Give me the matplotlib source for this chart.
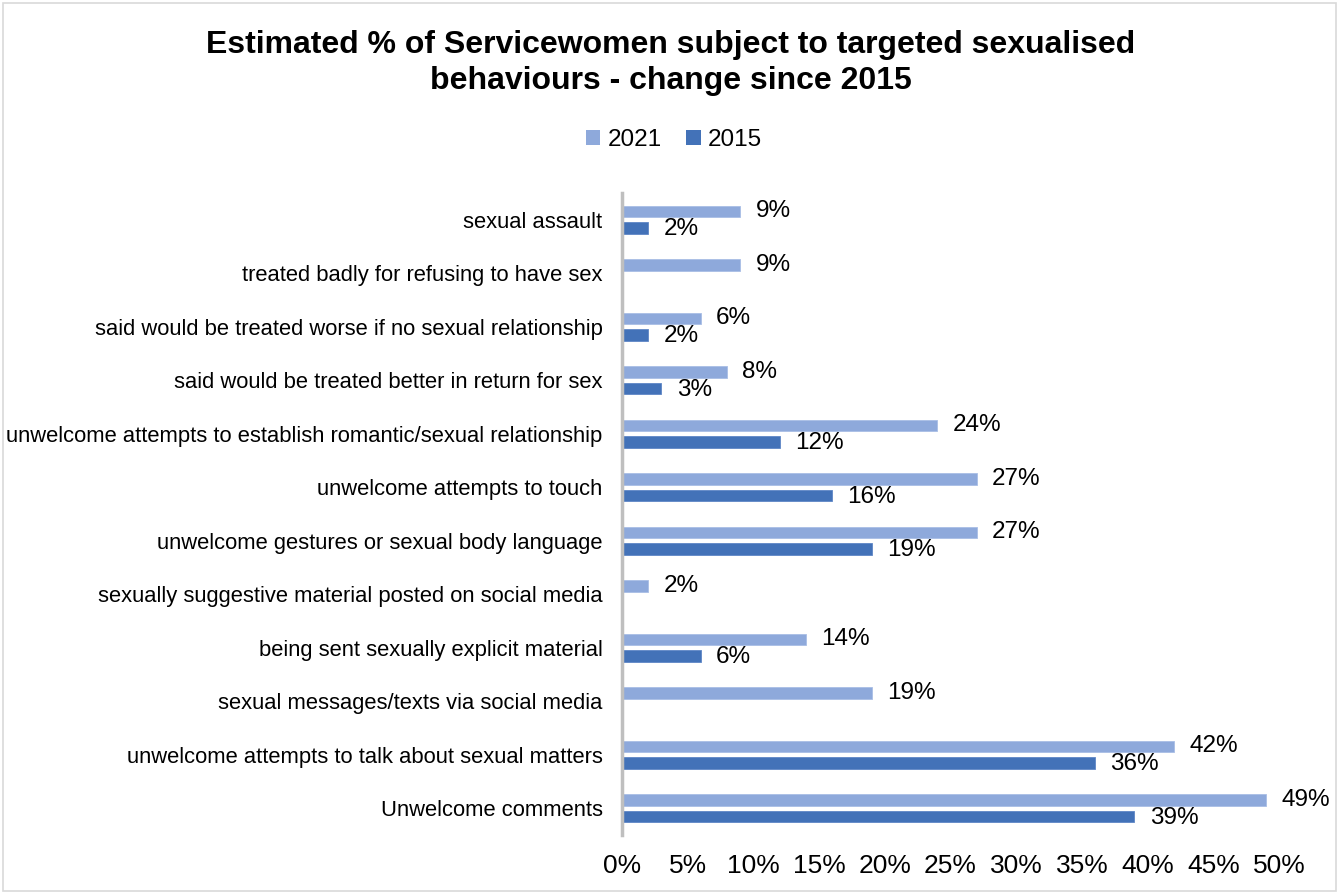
import matplotlib
matplotlib.use("Agg")
import matplotlib.pyplot as plt
from matplotlib.patches import Rectangle, Patch
import numpy as np

plt.rcParams['font.family'] = ['Liberation Sans', 'DejaVu Sans']

categories = [
    "sexual assault",
    "treated badly for refusing to have sex",
    "said would be treated worse if no sexual relationship",
    "said would be treated better in return for sex",
    "unwelcome attempts to establish romantic/sexual relationship",
    "unwelcome attempts to touch",
    "unwelcome gestures or sexual body language",
    "sexually suggestive material posted on social media",
    "being sent sexually explicit material",
    "sexual messages/texts via social media",
    "unwelcome attempts to talk about sexual matters",
    "Unwelcome comments",
]
pct_2021 = [9, 9, 6, 8, 24, 27, 27, 2, 14, 19, 42, 49]
pct_2015 = [2, None, 2, 3, 12, 16, 19, None, 6, None, 36, 39]
x_ticks = [0, 5, 10, 15, 20, 25, 30, 35, 40, 45, 50]

color_2021 = "#8EA9DB"
color_2015 = "#4372B8"

W, H = 1341, 894
fig = plt.figure(figsize=(W / 100, H / 100), dpi=100)
ax = fig.add_axes([622 / W, 1 - 835 / H, (1279 - 622) / W, (835 - 193) / H])

y = np.arange(len(categories))
bar_h = 0.21
off = 0.155

for i, (a, b) in enumerate(zip(pct_2021, pct_2015)):
    ax.barh(y[i] - off, a, height=bar_h, color=color_2021, edgecolor="#A9BEE6", linewidth=0.6)
    ax.annotate(f"{a}%", (a, y[i] - off), xytext=(11, 0), textcoords="offset points",
                va="center", ha="left", fontsize=17.5)
    if b is not None:
        ax.barh(y[i] + off, b, height=bar_h, color=color_2015, edgecolor="#5F86C6", linewidth=0.6)
        ax.annotate(f"{b}%", (b, y[i] + off), xytext=(11, -1), textcoords="offset points",
                    va="center", ha="left", fontsize=17.5)

ax.set_ylim(len(categories) - 0.5, -0.5)
ax.set_xlim(0, 50)
ax.set_yticks(y)
ax.set_yticklabels(categories, fontsize=15.8)
ax.set_xticks(x_ticks)
ax.set_xticklabels([f"{t}%" for t in x_ticks], fontsize=19)
ax.tick_params(axis="both", length=0)
ax.tick_params(axis="x", pad=14)
ax.tick_params(axis="y", pad=14)
for s in ["top", "right", "bottom"]:
    ax.spines[s].set_visible(False)
ax.spines["left"].set_color("#BFBFBF")
ax.spines["left"].set_linewidth(2.5)

fig.text(0.5, 1 - 63 / H, "Estimated % of Servicewomen subject to targeted sexualised\nbehaviours - change since 2015",
         ha="center", va="center", fontsize=23, fontweight="bold", linespacing=1.22)

handles = [Patch(facecolor=color_2021, edgecolor="none"), Patch(facecolor=color_2015, edgecolor="none")]
fig.legend(handles, ["2021", "2015"], loc="center", bbox_to_anchor=(674 / W, 1 - 140 / H),
           ncol=2, frameon=False, fontsize=17.5, handlelength=0.6, handleheight=0.6,
           handletextpad=0.3, columnspacing=1.0)

fig.add_artist(Rectangle((0.002, 0.003), 0.994, 0.994, transform=fig.transFigure,
                         fill=False, edgecolor="#D9D9D9", linewidth=1.2))

fig.savefig("out.png", dpi=100)
